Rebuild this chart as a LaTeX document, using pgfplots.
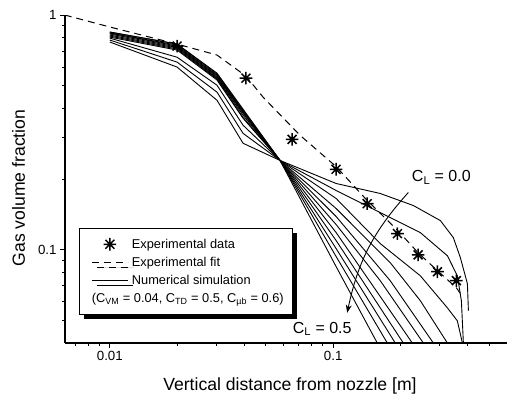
\documentclass[border=0pt]{standalone}
\usepackage{fontspec}
\setmainfont{Liberation Sans}
\usepackage{pgfplots}
\pgfplotsset{compat=1.18}
\usetikzlibrary{arrows.meta,shadows}

\pgfdeclareplotmark{ast8}{%
  \pgfpathmoveto{\pgfqpoint{-\pgfplotmarksize}{0pt}}\pgfpathlineto{\pgfqpoint{\pgfplotmarksize}{0pt}}%
  \pgfpathmoveto{\pgfqpoint{0pt}{-\pgfplotmarksize}}\pgfpathlineto{\pgfqpoint{0pt}{\pgfplotmarksize}}%
  \pgfpathmoveto{\pgfqpoint{-0.7071\pgfplotmarksize}{-0.7071\pgfplotmarksize}}\pgfpathlineto{\pgfqpoint{0.7071\pgfplotmarksize}{0.7071\pgfplotmarksize}}%
  \pgfpathmoveto{\pgfqpoint{-0.7071\pgfplotmarksize}{0.7071\pgfplotmarksize}}\pgfpathlineto{\pgfqpoint{0.7071\pgfplotmarksize}{-0.7071\pgfplotmarksize}}%
  \pgfusepathqstroke}

\newcommand{\legbox}{\pgfpathrectangle{\pgfpoint{-6bp}{-5bp}}{\pgfpoint{44bp}{10bp}}\pgfusepath{use as bounding box}}
\pgfplotsset{
  linelegend/.style={legend image code/.code={\legbox\draw[##1] (0bp,0bp) -- (36bp,0bp);}},
  marklegend/.style={legend image code/.code={\legbox\draw[##1] plot coordinates {(18bp,0bp)};}},
}

\begin{document}
\begin{tikzpicture}
\begin{axis}[
  at={(0,0)}, anchor=south west,
  width=442bp, height=328bp, scale only axis,
  xmode=log, ymode=log,
  xmin=0.0063, xmax=0.6, ymin=0.04, ymax=1,
  axis lines*=left, axis line style={line width=1.1bp},
  xtick={0.01,0.1}, xticklabels={0.01,0.1},
  ytick={0.1,1}, yticklabels={0.1,1},
  minor xtick={0.007,0.008,0.009,0.02,0.03,0.04,0.05,0.06,0.07,0.08,0.09,0.2,0.3,0.4,0.5},
  minor ytick={0.05,0.06,0.07,0.08,0.09,0.2,0.3,0.4,0.5,0.6,0.7,0.8,0.9},
  tick align=outside,
  major tick length=5bp, minor tick length=3bp,
  every tick/.style={black, line width=1bp},
  tick label style={font=\fontsize{13.3bp}{15bp}\selectfont},
  /pgf/number format/assume math mode=true,
  xlabel={Vertical distance from nozzle [m]},
  ylabel={Gas volume fraction},
  label style={font=\fontsize{17.6bp}{20bp}\selectfont},
  xlabel style={at={(axis description cs:0.509,-0.1463)}, anchor=base},
  ylabel style={at={(axis description cs:-0.0905,0.4726)}, anchor=base},
  simline/.style={black, line width=0.9bp, no markers},
  legend cell align=left,
  legend style={at={(0.0317,0.3506)}, anchor=north west,
    draw=black, line width=0.8bp, fill=white,
    font=\fontsize{12.8bp}{15bp}\selectfont,
    row sep=3.2bp, inner xsep=6.5bp, inner ysep=8.5bp,
    drop shadow={shadow xshift=5bp, shadow yshift=-5bp, fill=black, opacity=1}},
]
% experimental data
\addplot[only marks, mark=ast8, mark size=6.3bp, mark options={line width=1.5bp, black}, marklegend]
  coordinates {(0.020,0.737) (0.0407,0.538) (0.0655,0.295) (0.103,0.22) (0.142,0.157)
               (0.194,0.117) (0.240,0.095) (0.293,0.0805) (0.356,0.0738)};
\addlegendentry{Experimental data}
% experimental fit
\addplot[black, line width=1bp, dash pattern=on 7bp off 5bp, no markers, linelegend]
  coordinates {(0.00628,1) (0.01,0.889) (0.02,0.752) (0.0302,0.675) (0.0407,0.549)
               (0.0486,0.446) (0.0711,0.307) (0.103,0.226) (0.142,0.162) (0.194,0.121)
               (0.240,0.097) (0.293,0.0813) (0.356,0.0688) (0.38,0.063)};
\addlegendentry{Experimental fit}
% numerical simulations, C_L = 0.0 ... 0.5
\addplot[simline, linelegend]
  coordinates {(0.01,0.767) (0.02,0.600) (0.0302,0.433) (0.0395,0.284) (0.0578,0.240)
               (0.1031,0.1914) (0.1625,0.1735) (0.2284,0.1542) (0.3019,0.133)
               (0.3452,0.1125) (0.3711,0.0924) (0.399,0.0716) (0.4031,0.0549)};
\addlegendentry{Numerical simulation}
\addplot[simline, forget plot]
  coordinates {(0.01,0.782) (0.02,0.630) (0.0302,0.469) (0.0395,0.313) (0.0578,0.240)
               (0.1031,0.1787) (0.1625,0.1439) (0.2455,0.1182) (0.3245,0.0942)
               (0.3597,0.0774) (0.375,0.0605) (0.3828,0.04)};
\addplot[simline, forget plot]
  coordinates {(0.01,0.797) (0.02,0.661) (0.0302,0.502) (0.0395,0.339) (0.0578,0.240)
               (0.1031,0.1652) (0.1625,0.1061) (0.2455,0.0774) (0.3245,0.0565)
               (0.3597,0.0497) (0.3789,0.04)};
\addplot[simline, forget plot]
  coordinates {(0.01,0.805) (0.02,0.709) (0.0302,0.528) (0.0395,0.363) (0.0578,0.240)
               (0.1031,0.1497) (0.1801,0.0880) (0.2455,0.0606) (0.3245,0.04)};
\addplot[simline, forget plot]
  coordinates {(0.01,0.813) (0.02,0.716) (0.0302,0.533) (0.0395,0.366) (0.0578,0.240)
               (0.1031,0.1384) (0.1801,0.0737) (0.2808,0.04)};
\addplot[simline, forget plot]
  coordinates {(0.01,0.821) (0.02,0.723) (0.0302,0.538) (0.0395,0.374) (0.0578,0.240)
               (0.1031,0.1279) (0.1625,0.0737) (0.2533,0.04)};
\addplot[simline, forget plot]
  coordinates {(0.01,0.830) (0.02,0.730) (0.0302,0.543) (0.0395,0.381) (0.0578,0.240)
               (0.1031,0.1182) (0.2261,0.04)};
\addplot[simline, forget plot]
  coordinates {(0.01,0.838) (0.02,0.737) (0.0302,0.549) (0.0395,0.385) (0.0578,0.240)
               (0.1031,0.1093) (0.2060,0.04)};
\addplot[simline, forget plot]
  coordinates {(0.01,0.838) (0.02,0.744) (0.0302,0.554) (0.0395,0.389) (0.0578,0.240)
               (0.1031,0.1010) (0.1897,0.04)};
\addplot[simline, forget plot]
  coordinates {(0.01,0.846) (0.02,0.752) (0.0302,0.560) (0.0395,0.393) (0.0578,0.240)
               (0.1031,0.0934) (0.1747,0.04)};
\addplot[simline, forget plot]
  coordinates {(0.01,0.846) (0.02,0.752) (0.0302,0.565) (0.0395,0.397) (0.0578,0.240)
               (0.1031,0.0846) (0.1575,0.04)};
\addlegendimage{empty legend}
\addlegendentry{\hspace{-40bp}(C\textsubscript{VM} = 0.04, C\textsubscript{TD} = 0.5, C\textsubscript{µb} = 0.6)\hspace{-4bp}}
% annotations
\draw[black, line width=0.9bp, -{Stealth[length=8bp, width=6bp]}]
  (axis cs:0.217,0.1752) to[bend right=15] (axis cs:0.1155,0.0538);
\node[font=\fontsize{16bp}{18bp}\selectfont] at (axis cs:0.305,0.203) {C\textsubscript{L} = 0.0};
\node[font=\fontsize{16bp}{18bp}\selectfont] at (axis cs:0.0893,0.0460) {C\textsubscript{L} = 0.5};
\end{axis}
\pgfresetboundingbox
\path[use as bounding box] (-65bp,-57bp) rectangle (442bp,343bp);
\end{tikzpicture}
\end{document}
